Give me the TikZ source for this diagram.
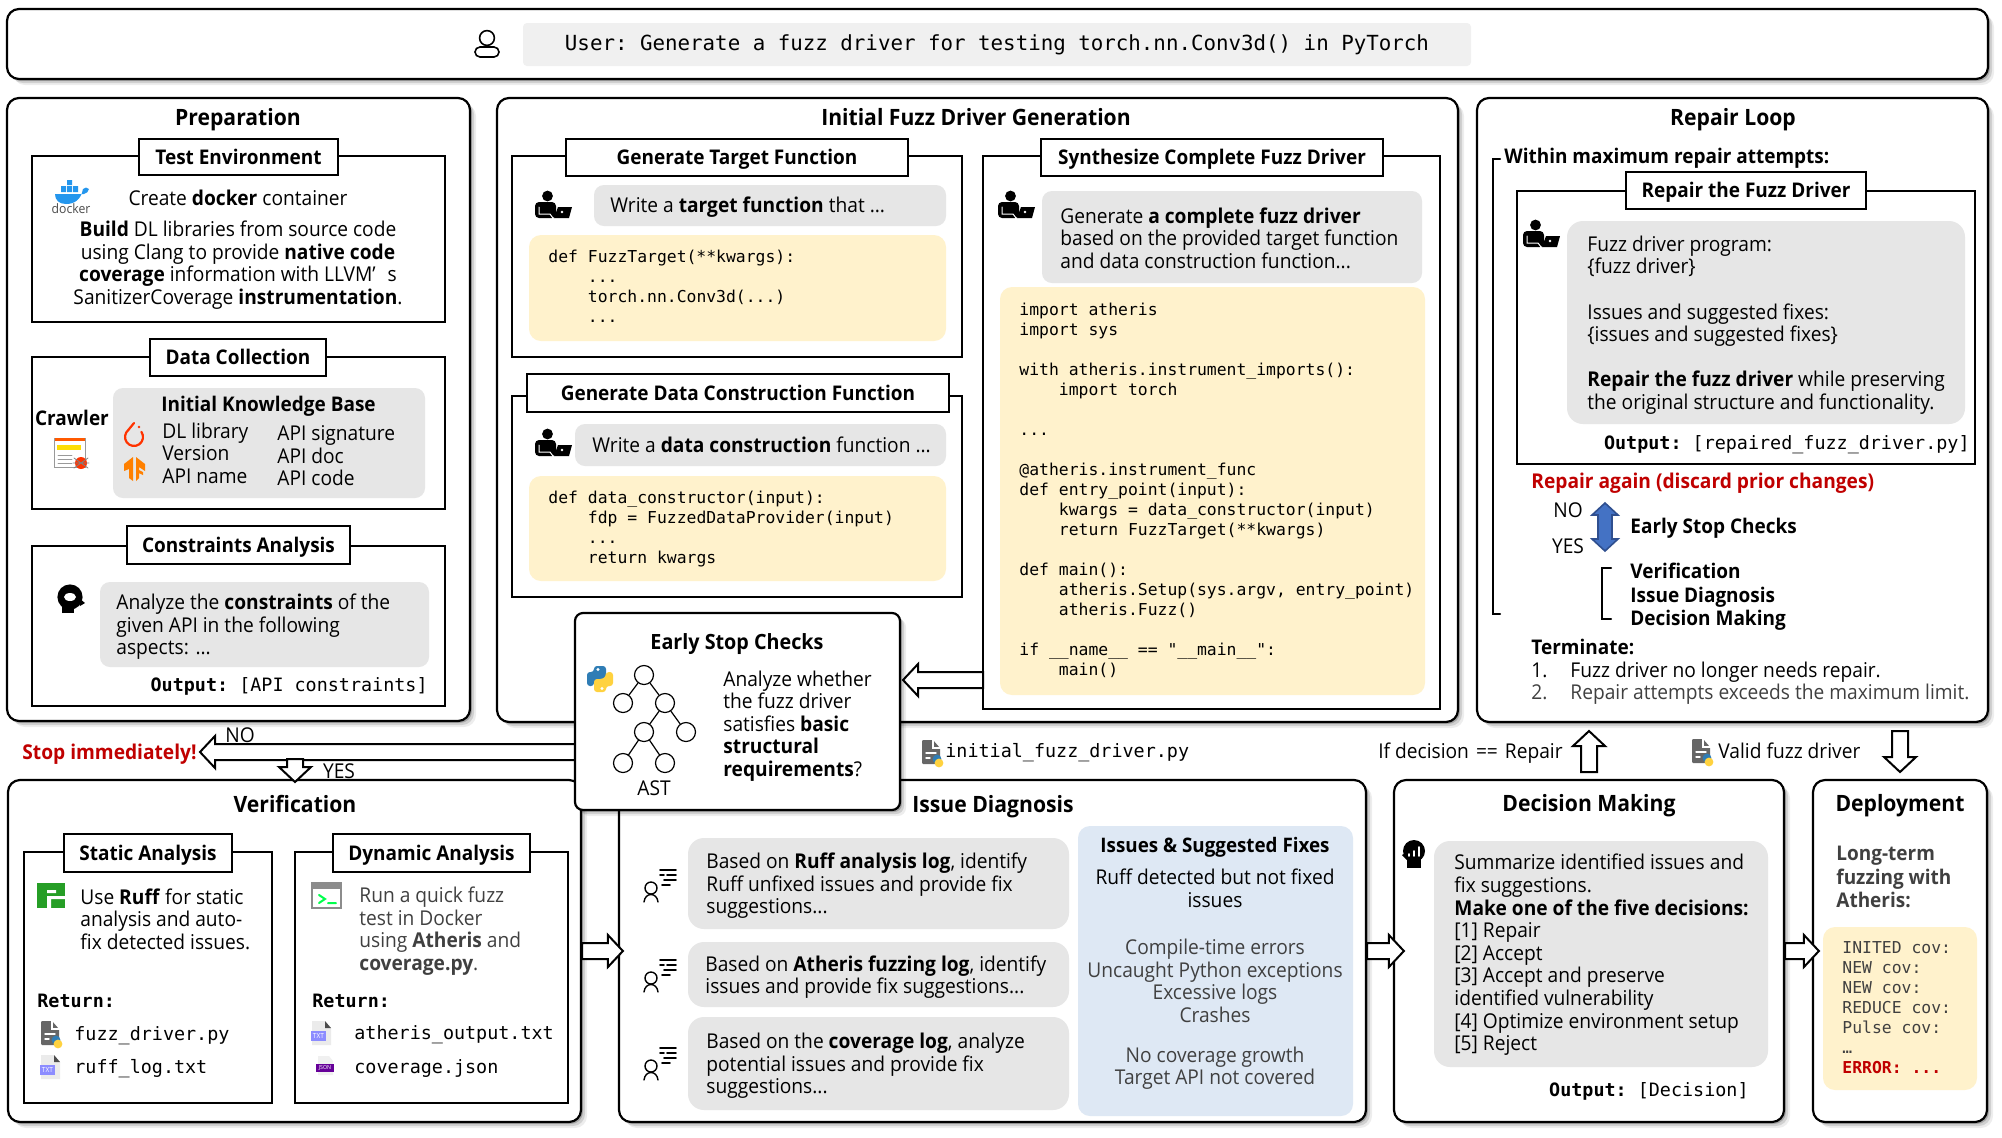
\documentclass[tikz,border=0pt]{standalone}
\usepackage{fontspec}
\setmainfont{Open Sans}[FakeStretch=0.94]
\setmonofont{DejaVu Sans Mono}
\usetikzlibrary{calc,fit,shadows}
\definecolor{graybox}{HTML}{E6E6E6}
\definecolor{yellowbox}{HTML}{FFF2CC}
\definecolor{bluebox}{HTML}{DEE8F4}
\definecolor{stopred}{HTML}{C00000}
\definecolor{softtext}{HTML}{404040}
\definecolor{dblue}{HTML}{2496ED}
\definecolor{pyblue}{HTML}{2F7DB5}
\definecolor{pyyellow}{HTML}{FFD23F}
\definecolor{loopblue}{HTML}{4472C4}
\definecolor{loopedge}{HTML}{2F4F8F}
\tikzset{
softshadow/.style={general shadow={shadow xshift=1pt,shadow yshift=-1pt,fill=black,opacity=.2},
 general shadow={shadow xshift=2pt,shadow yshift=-2pt,fill=black,opacity=.12},
 general shadow={shadow xshift=3pt,shadow yshift=-3pt,fill=black,opacity=.07}},
panel/.style={softshadow,draw,fill=white,line width=1.1pt,rounded corners=6pt,inner sep=0pt},
frame/.style={draw,line width=1pt,inner sep=0pt},
titlebox/.style={draw,fill=white,line width=1pt,inner sep=0pt},
titletext/.style={inner sep=0pt,text height=9.5pt,text depth=2.5pt,font=\bfseries\fontsize{10.1}{12}\selectfont},
graypad/.style={fill=graybox,rounded corners=5pt,inner sep=0pt},
yellowpad/.style={fill=yellowbox,rounded corners=6pt,inner sep=0pt},
bluepad/.style={fill=bluebox,rounded corners=6pt,inner sep=0pt},
head/.style={inner sep=0pt,text height=10.5pt,text depth=2.5pt,font=\bfseries\fontsize{11.25}{13}\selectfont},
body/.style={inner sep=0pt,anchor=west,align=left,font=\fontsize{10.2}{11.3}\selectfont},
bodyc/.style={inner sep=0pt,align=center,font=\fontsize{10.2}{11.3}\selectfont},
boldbody/.style={inner sep=0pt,anchor=west,align=left,font=\bfseries\fontsize{10.1}{11.7}\selectfont},
oneline/.style={text height=10pt,text depth=2.5pt},
code/.style={inner sep=0pt,anchor=west,align=left,font=\ttfamily\fontsize{8.2}{10}\selectfont},
output/.style={inner sep=0pt,font=\ttfamily\fontsize{9.2}{11}\selectfont},
fatline/.style={draw,fill=white,line width=1pt,line join=miter},
astnode/.style={draw,circle,minimum size=9.5pt,inner sep=0pt,line width=.6pt},
}
\newcommand{\tabin}{\phantom{xxxx}}
% block arrow between two named points
\newcommand{\fatarrow}[3][white]{
\coordinate (hb) at ($(#3)!7.5pt!(#2)$);
\draw[fatline,fill=#1] ($(#2)!4pt!90:(#3)$)--($(hb)!4pt!90:(#3)$)--($(hb)!8pt!90:(#3)$)--(#3)--($(hb)!8pt!-90:(#3)$)--($(hb)!4pt!-90:(#3)$)--($(#2)!4pt!-90:(#3)$)--cycle;
}
\newcommand{\iconlaptop}[2]{\begin{scope}[shift={(#1,#2)}]
\fill (-5.5,-11) circle (2.7pt);
\fill[rounded corners=2pt] (-18,-5)--(3,-5)--(3,11)--(-18,11)--cycle;
\draw[white,line width=.5pt] (-14,0)--(-14,7)--(-3,7)--(0,11);
\fill (5,0)--(19,0)--(16,11)--(1,11)--cycle;
\fill[white] (9,5) circle (.7pt);
\end{scope}}
\newcommand{\iconbrain}[2]{\begin{scope}[shift={(#1,#2)}]
\fill (-1,-3) circle (6.3pt);
\fill (-10,0)--(2,11)--(-8,13)--cycle;
\fill (-9,2) rectangle (3,13);
\fill (8,-2)--(14,3)--(9,6)--cycle;
\fill[white] (-1,-3) ellipse (3pt and 2pt);
\end{scope}}
\newcommand{\iconchart}[2]{\begin{scope}[shift={(#1,#2)}]
\fill (0,-4) circle (5.5pt);
\fill (-7,0) rectangle (7,13);
\fill (-12,0)--(-7,-3)--(-7,5)--cycle;
\draw[white,line width=.8pt] (-5,-1)--(-5,1) (0,-4)--(0,1) (5,-8)--(5,1);
\end{scope}}
\newcommand{\iconpy}[2]{\begin{scope}[shift={(#1,#2)}]
\fill[black!60,rounded corners=.6pt] (-9,-12)--(2,-12)--(9,-4)--(9,12)--(-9,12)--cycle;
\draw[white,line width=.7pt] (-5,1)--(5,1) (-5,6)--(-1,6) (2,-12)--(2,-4)--(9,-4);
\fill[pyblue] (6,7) circle (2.2pt);
\fill[pyyellow] (8,11) circle (2.2pt);
\end{scope}}
\newcommand{\icontxt}[2]{\begin{scope}[shift={(#1,#2)}]
\fill[black!8] (-9,-12)--(4,-12)--(10,-5)--(10,12)--(-9,12)--cycle;
\fill[black!70] (4,-12)--(10,-5)--(4,-5)--cycle;
\fill[blue!45!white] (-10,-2) rectangle (5,8);
\node[inner sep=0pt,white,font=\fontsize{3.5}{4}\selectfont] (txtmark) at (-2.5,3) {TXT};
\end{scope}}
\newcommand{\iconjson}[2]{\begin{scope}[shift={(#1,#2)}]
\fill[black!6] (-7,-10)--(4,-10)--(8,-5)--(8,9)--(-7,9)--cycle;
\fill[violet!80!blue] (-9,-2) rectangle (9,6);
\node[inner sep=0pt,white,font=\fontsize{2.8}{3}\selectfont] (jsonmark) at (0,2) {JSON};
\end{scope}}
\newcommand{\iconlog}[2]{\begin{scope}[shift={(#1,#2)}]
\draw[line width=.7pt] (-5,1) circle (3pt);
\draw[line width=.7pt] (-12,15)..controls (-11,5) and (1,5) ..(2,15);
\draw[line width=.8pt] (4,-17)--(20,-17) (4,-12)--(8,-12) (11,-12)--(20,-12) (8,-7)--(20,-7) (6,-2)--(14,-2);
\end{scope}}
\begin{document}
\begin{tikzpicture}[>=stealth,line cap=round,x=.5pt,y=-.5pt]
\useasboundingbox (0,0) rectangle (2002,1137);
% top bar
\node[panel,fit={(7,9) (1988,79)}] (topbar) {};
\fill[black!6,rounded corners=2pt] (523,23) rectangle (1471,66);
\draw[line width=.8pt] (487,38) circle (3.7pt);
\draw[line width=.8pt,rounded corners=2.5pt] (475,57) rectangle (499,47);
\node[inner sep=0pt,font=\ttfamily\fontsize{10.4}{12}\selectfont] (prompt) at (997,45) {User: Generate a fuzz driver for testing torch.nn.Conv3d() in PyTorch};
% main panels
\node[panel,fit={(7,98) (470,721)}] (prep) {};
\node[panel,fit={(497,98) (1458,722)}] (gen) {};
\node[panel,fit={(1477,98) (1988,722)}] (repair) {};
\node[panel,fit={(8,780) (581,1122)}] (ver) {};
\node[panel,fit={(619,780) (1366,1122)}] (diag) {};
\node[panel,fit={(1394,780) (1784,1122)}] (dec) {};
\node[panel,fit={(1813,780) (1987,1122)}] (dep) {};
\node[head] (prephead) at (238,117) {Preparation};
\node[head] (genhead) at (976,117) {Initial Fuzz Driver Generation};
\node[head] (repairhead) at (1733,117) {Repair Loop};
\node[head] (verhead) at (295,804) {Verification};
\node[head] (diaghead) at (993,804) {Issue Diagnosis};
\node[head] (dechead) at (1589,803) {Decision Making};
\node[head] (dephead) at (1900,803) {Deployment};
% preparation
\node[frame,fit={(32,156) (445,322)}] (envframe) {};
\node[titlebox,fit={(139,139) (338,175)}] (envtitle) {};
\node[titletext] (envtext) at (envtitle.center) {Test Environment};
\fill[dblue] (55,194)--(84,194)..controls (87,194) and (88,191) ..(89,189)..controls (87,187) and (85,187) ..(83,189)..controls (81,200) and (74,204) ..(66,204)..controls (59,204) and (55,200) ..(55,194)--cycle;
\fill[dblue] (61,186) rectangle (66,192) (67,186) rectangle (72,192) (73,186) rectangle (78,192) (67,180) rectangle (72,185);
\node[inner sep=0pt,text=black!70,font=\fontsize{6.5}{7}\selectfont] (dockerword) at (71,209) {docker};
\node[bodyc,oneline] (dockertext) at (238,198) {Create \textbf{docker} container};
\node[bodyc] (buildtext) at (238,265) {\textbf{Build} DL libraries from source code\\using Clang to provide \textbf{native code}\\\textbf{coverage} information with LLVM’\hspace{6pt}s\\SanitizerCoverage \textbf{instrumentation}.};
\node[frame,fit={(32,357) (445,509)}] (dataframe) {};
\node[titlebox,fit={(150,339) (326,376)}] (datatitle) {};
\node[titletext] (datatext) at (datatitle.center) {Data Collection};
\node[graypad,fit={(113,388) (425,498)}] (kbpad) {};
\node[titletext] (crawler) at (72,418) {Crawler};
\draw[black!40,fill=white,line width=.5pt] (54,438) rectangle (85,467);
\fill[orange!70!red] (55,438) rectangle (85,441);
\fill[yellow!80!orange] (57,445) rectangle (81,450);
\draw[black!40,line width=.4pt] (58,455)--(72,455) (58,459)--(72,459) (58,463)--(72,463);
\fill[red!60!orange] (81,463) circle (3pt);
\draw[black!50,line width=.4pt] (74,458)--(88,468) (88,458)--(74,468) (73,463)--(89,463);
\node[boldbody,oneline] (kbhead) at (161,404) {Initial Knowledge Base};
\draw[red!60!orange,line width=1.1pt] (141.4,431.8) arc (35:-230:4.5pt);
\draw[red!60!orange,line width=1.1pt] (128.2,430.1)--(134,423);
\fill[red!60!orange] (139,427) circle (.7pt);
\fill[orange] (133,457)--(133,481)--(129,478)--(129,469)--(124,471)--(124,464)--cycle;
\fill[orange] (136,457)--(145,464)--(145,471)--(139,467)--(139,470)--(143,472)--(143,475)--(139,473)--(139,478)--(136,481)--cycle;
\node[body,anchor=west] (kbleft) at (162,453) {DL library\\Version\\API name};
\node[body,anchor=west] (kbright) at (277,456) {API signature\\API doc\\API code};
\node[frame,fit={(32,546) (445,706)}] (consframe) {};
\node[titlebox,fit={(127,526) (350,564)}] (constitle) {};
\node[titletext] (constext) at (constitle.center) {Constraints Analysis};
\node[graypad,fit={(100,582) (429,667)}] (conspad) {};
\iconbrain{71}{600}
\node[body] (consbody) at (116,627) {Analyze the \textbf{constraints} of the\\given API in the following\\aspects: ...};
\node[output,anchor=east] (consout) at (428,686) {\textbf{Output:} [API constraints]};
% generation
\node[frame,fit={(512,156) (962,357)}] (tfframe) {};
\node[titlebox,fit={(566,139) (908,176)}] (tftitle) {};
\node[titletext] (tflabel) at (tftitle.center) {Generate Target Function};
\iconlaptop{553}{207}
\node[graypad,fit={(594,185) (946,226)}] (tfpad) {};
\node[body,oneline] (tftext) at (610,205) {Write a \textbf{target function} that ...};
\node[yellowpad,fit={(529,235) (946,341)}] (tfcode) {};
\node[code] (tfsrc) at (548,286) {def FuzzTarget(**kwargs):\\\tabin...\\\tabin torch.nn.Conv3d(...)\\\tabin...};
\node[frame,fit={(512,396) (962,597)}] (dcframe) {};
\node[titlebox,fit={(527,374) (949,412)}] (dctitle) {};
\node[titletext] (dclabel) at (dctitle.center) {Generate Data Construction Function};
\iconlaptop{553}{445}
\node[graypad,fit={(575,424) (946,466)}] (dcpad) {};
\node[body,oneline] (dctext) at (592,445) {Write a \textbf{data construction} function ...};
\node[yellowpad,fit={(529,476) (946,581)}] (dccode) {};
\node[code] (dcsrc) at (548,529) {def data\_constructor(input):\\\tabin fdp = FuzzedDataProvider(input)\\\tabin...\\\tabin return kwargs};
\node[frame,fit={(983,156) (1440,709)}] (synframe) {};
\node[titlebox,fit={(1041,139) (1383,176)}] (syntitle) {};
\node[titletext] (synlabel) at (syntitle.center) {Synthesize Complete Fuzz Driver};
\iconlaptop{1016}{207}
\node[graypad,fit={(1042,191) (1422,283)}] (synpad) {};
\node[body] (syntext) at (1060,238) {Generate \textbf{a complete fuzz driver}\\based on the provided target function\\and data construction function...};
\node[yellowpad,fit={(1000,287) (1425,695)}] (syncode) {};
\node[code] (synsrc) at (1019,490) {import atheris\\import sys\\[10pt]with atheris.instrument\_imports():\\\tabin import torch\\[10pt]...\\[10pt]@atheris.instrument\_func\\def entry\_point(input):\\\tabin kwargs = data\_constructor(input)\\\tabin return FuzzTarget(**kwargs)\\[10pt]def main():\\\tabin atheris.Setup(sys.argv, entry\_point)\\\tabin atheris.Fuzz()\\[10pt]if \_\_name\_\_ == "\_\_main\_\_":\\\tabin main()};
% repair loop
\node[boldbody,oneline] (withinhead) at (1504,156) {Within maximum repair attempts:};
\draw[line width=1pt] (1500,159)--(1493,159)--(1493,614)--(1500,614);
\node[frame,fit={(1517,191) (1975,464)}] (fixframe) {};
\node[titlebox,fit={(1626,172) (1866,209)}] (fixtitle) {};
\node[titletext] (fixlabel) at (fixtitle.center) {Repair the Fuzz Driver};
\iconlaptop{1541}{236}
\node[graypad,rounded corners=8pt,fit={(1567,221) (1965,424)}] (fixpad) {};
\node[body] (fixtext) at (1587,325) {Fuzz driver program:\\\{fuzz driver\}\\[11.3pt]Issues and suggested fixes:\\\{issues and suggested fixes\}\\[11.3pt]\textbf{Repair the fuzz driver} while preserving\\the original structure and functionality.};
\node[output,anchor=east] (fixout) at (1970,445) {\textbf{Output:} [repaired\_fuzz\_driver.py]};
\node[boldbody,oneline,text=stopred,font=\bfseries\fontsize{10.2}{12}\selectfont] (againtext) at (1531,481) {Repair again (discard prior changes)};
\node[bodyc,oneline] (nolabel) at (1568,510) {NO};
\node[bodyc,oneline] (yeslabel) at (1568,546) {YES};
\draw[fill=loopblue,draw=loopedge,line width=.8pt,line join=miter] (1605,503)--(1618,515)--(1612,515)--(1612,539)--(1618,539)--(1605,551)--(1592,539)--(1598,539)--(1598,515)--(1592,515)--cycle;
\node[boldbody,oneline] (esclabel) at (1630,526) {Early Stop Checks};
\draw[line width=1pt] (1611,568)--(1602,568)--(1602,619)--(1611,619);
\node[boldbody] (steplist) at (1630,597) {Verification\\Issue Diagnosis\\Decision Making};
\node[boldbody,oneline] (termhead) at (1531,647) {Terminate:};
\node[body,oneline] (termone) at (1531,670) {1.};
\node[body,oneline] (termonetext) at (1570,670) {Fuzz driver no longer needs repair.};
\node[body,oneline,text=softtext] (termtwo) at (1531,692) {2.};
\node[body,oneline,text=softtext] (termtwotext) at (1570,692) {Repair attempts exceeds the maximum limit.};
% verification
\node[frame,fit={(24,852) (272,1103)}] (statframe) {};
\node[titlebox,fit={(64,834) (232,872)}] (stattitle) {};
\node[titletext] (statlabel) at (stattitle.center) {Static Analysis};
\fill[green!55!black!85!white] (37,883) rectangle (65,908);
\fill[white] (47,890) rectangle (56,893) (47,896) rectangle (65,899) (47,899) rectangle (51,908);
\node[body] (stattext) at (80,919) {Use \textbf{Ruff} for static\\analysis and auto-\\fix detected issues.};
\node[output,anchor=west] (statret) at (37,1001) {\textbf{Return:}};
\iconpy{50}{1033}
\node[output,anchor=west] (statpy) at (74,1036) {fuzz\_driver.py};
\icontxt{50}{1067}
\node[output,anchor=west] (statlog) at (74,1069) {ruff\_log.txt};
\node[frame,fit={(295,852) (568,1103)}] (dynframe) {};
\node[titlebox,fit={(333,834) (530,872)}] (dyntitle) {};
\node[titletext] (dynlabel) at (dyntitle.center) {Dynamic Analysis};
\draw[black!45,line width=.8pt,fill=white] (312,883) rectangle (341,908);
\fill[black!45] (311,882) rectangle (342,889);
\draw[green!70!cyan,line width=1pt] (319,895)--(325,899)--(319,903) (328,903)--(336,903);
\node[body,text=softtext] (dyntext) at (359,931) {Run a quick fuzz\\test in Docker\\using \textbf{Atheris} and\\\textbf{coverage.py}.};
\node[output,anchor=west] (dynret) at (312,1001) {\textbf{Return:}};
\icontxt{321}{1033}
\node[output,anchor=west] (dynout) at (354,1035) {atheris\_output.txt};
\iconjson{325}{1066}
\node[output,anchor=west] (dyncov) at (354,1068) {coverage.json};
% issue diagnosis
\iconlog{656}{887}
\node[graypad,rounded corners=8pt,fit={(688,838) (1069,929)}] (ruffpad) {};
\node[body] (rufftext) at (706,886) {Based on \textbf{Ruff analysis log}, identify\\Ruff unfixed issues and provide fix\\suggestions...};
\iconlog{656}{977}
\node[graypad,rounded corners=8pt,fit={(688,942) (1069,1007)}] (fuzzpad) {};
\node[body] (fuzztext) at (705,977) {Based on \textbf{Atheris fuzzing log}, identify\\issues and provide fix suggestions...};
\iconlog{656}{1065}
\node[graypad,rounded corners=8pt,fit={(688,1017) (1069,1110)}] (covpad) {};
\node[body] (covtext) at (706,1066) {Based on the \textbf{coverage log}, analyze\\potential issues and provide fix\\suggestions...};
\node[bluepad,fit={(1078,826) (1353,1116)}] (fixespad) {};
\node[bodyc,oneline,font=\bfseries\fontsize{10}{11.3}\selectfont] (fixeshead) at (1215,845) {Issues \& Suggested Fixes};
\node[bodyc] (fixesone) at (1215,888) {Ruff detected but not fixed\\issues};
\node[bodyc,text=softtext] (fixestwo) at (1215,981) {Compile-time errors\\Uncaught Python exceptions\\Excessive logs\\Crashes};
\node[bodyc,text=softtext] (fixesthree) at (1215,1068) {No coverage growth\\Target API not covered};
% decision making
\iconchart{1414}{855}
\node[graypad,rounded corners=8pt,fit={(1434,841) (1768,1067)}] (decpad) {};
\node[body] (dectext) at (1454,955) {Summarize identified issues and\\fix suggestions.\\\textbf{Make one of the five decisions:}\\{[1]} Repair\\{[2]} Accept\\{[3]} Accept and preserve\\identified vulnerability\\{[4]} Optimize environment setup\\{[5]} Reject};
\node[output,anchor=east] (decout) at (1749,1091) {\textbf{Output:} [Decision]};
% deployment
\node[boldbody,text=softtext] (deptext) at (1836,877) {Long-term\\fuzzing with\\Atheris:};
\node[yellowpad,fit={(1823,927) (1977,1090)}] (deppad) {};
\node[code,text=softtext] (depsrc) at (1842,1008) {INITED cov:\\NEW cov:\\NEW cov:\\REDUCE cov:\\Pulse cov:\\…\\\textcolor{stopred}{\textbf{ERROR: ...}}};
% flow labels
\node[boldbody,oneline,text=stopred,font=\bfseries\fontsize{10.2}{12}\selectfont] (stoptext) at (22,752) {Stop immediately!};
\node[bodyc,oneline] (nostop) at (240,735) {NO};
\node[bodyc,oneline] (yesgo) at (339,771) {YES};
\iconpy{931}{752}
\node[output,anchor=west] (initname) at (945,753) {initial\_fuzz\_driver.py};
\node[body,oneline,anchor=east] (ifrepair) at (1563,751) {If decision\hspace{1pt} ==\hspace{1pt} Repair};
\iconpy{1701}{751}
\node[body,oneline] (validtext) at (1718,751) {Valid fuzz driver};
% connectors
\coordinate (synout) at (983,680);
\coordinate (escin) at (903,680);
\coordinate (escleft) at (580,752);
\coordinate (stophere) at (200,752);
\coordinate (gostart) at (295,759);
\coordinate (vertop) at (295,782);
\coordinate (diagtip) at ($(diag.west)+(5,0)$);
\coordinate (dectip) at ($(dec.west)+(11,0)$);
\coordinate (deptip) at ($(dep.west)+(7,0)$);
\coordinate (deccut) at (1589,772);
\coordinate (reptip) at (1589,731);
\coordinate (repcut) at (1900,731);
\coordinate (deptop) at (1900,772);
\fatarrow{synout}{escin}
\fatarrow{escleft}{stophere}
\fatarrow{gostart}{vertop}
\fatarrow{ver.east}{diagtip}
\fatarrow{diag.east}{dectip}
\fatarrow{dec.east}{deptip}
\fatarrow{deccut}{reptip}
\fatarrow{repcut}{deptop}
% early stop checks
\node[panel,rounded corners=4pt,fit={(575,613) (900,810)}] (esc) {};
\node[titletext,font=\bfseries\fontsize{10.5}{12}\selectfont] (eschead) at (737,642) {Early Stop Checks};
\fill[pyblue,rounded corners=1.5pt] (594,672)--(594,666)--(606,666)--(606,679)--(597,679)--(594,682)--(594,686)--(587,686)--(587,672)--cycle;
\fill[pyyellow,rounded corners=1.5pt] (606,686)--(606,692)--(594,692)--(594,679)--(603,679)--(606,676)--(606,672)--(613,672)--(613,686)--cycle;
\fill[white] (598,669.5) circle (.8pt) (602,688.5) circle (.8pt);
\node[astnode] (treeroot) at (644,675) {};
\node[astnode] (treea) at (623,703) {};
\node[astnode] (treeb) at (665,703) {};
\node[astnode] (treec) at (644,732) {};
\node[astnode] (treed) at (686,732) {};
\node[astnode] (treee) at (623,763) {};
\node[astnode] (treef) at (665,763) {};
\draw[line width=.6pt] (treeroot)--(treea) (treeroot)--(treeb) (treeb)--(treec) (treeb)--(treed) (treec)--(treee) (treec)--(treef);
\node[bodyc,oneline] (astlabel) at (654,788) {AST};
\node[body] (esctext) at (723,726) {Analyze whether\\the fuzz driver\\satisfies \textbf{basic}\\\textbf{structural}\\\textbf{requirements}?};
\end{tikzpicture}
\end{document}
